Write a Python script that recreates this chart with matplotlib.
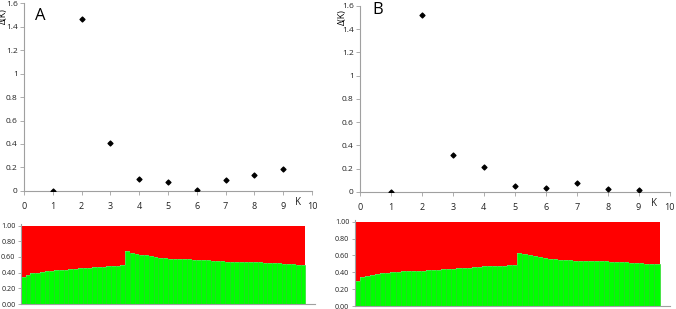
import matplotlib.pyplot as plt
import numpy as np

plt.rcParams['font.family'] = ['Open Sans', 'DejaVu Sans']

# Delta K values for panels A and B
k = [1, 2, 3, 4, 5, 6, 7, 8, 9]
dk_a = [0.0, 1.465, 0.41, 0.10, 0.08, 0.005, 0.095, 0.135, 0.19]
dk_b = [0.0, 1.52, 0.32, 0.21, 0.05, 0.035, 0.08, 0.025, 0.015]

# membership (green cluster) per individual, sorted as in the structure plots
green_a = [0.35, 0.37, 0.39, 0.40, 0.41, 0.42, 0.42, 0.43, 0.44, 0.44, 0.45,
           0.45, 0.46, 0.46, 0.46, 0.47, 0.47, 0.47, 0.48, 0.48, 0.48, 0.50,
           0.67, 0.65, 0.64, 0.63, 0.62, 0.61, 0.60, 0.59, 0.59, 0.58, 0.58,
           0.57, 0.57, 0.57, 0.56, 0.56, 0.56, 0.56, 0.55, 0.55, 0.55, 0.54,
           0.54, 0.54, 0.54, 0.53, 0.53, 0.53, 0.53, 0.52, 0.52, 0.52, 0.52,
           0.51, 0.51, 0.51, 0.50, 0.50]
green_b = [0.30, 0.34, 0.36, 0.37, 0.38, 0.39, 0.39, 0.40, 0.40, 0.41, 0.41,
           0.42, 0.42, 0.42, 0.43, 0.43, 0.43, 0.44, 0.44, 0.44, 0.45, 0.45,
           0.45, 0.46, 0.46, 0.47, 0.47, 0.47, 0.48, 0.48, 0.49, 0.49,
           0.63, 0.62, 0.60, 0.59, 0.58, 0.57, 0.56, 0.56, 0.55, 0.55, 0.55,
           0.54, 0.54, 0.54, 0.54, 0.53, 0.53, 0.53, 0.52, 0.52, 0.52, 0.52,
           0.51, 0.51, 0.51, 0.50, 0.50, 0.50]

gray = '#a0a0a0'
fig = plt.figure(figsize=(6.76, 3.09), dpi=100)


def style(ax):
    for s in ['top', 'right']:
        ax.spines[s].set_visible(False)
    for s in ['left', 'bottom']:
        ax.spines[s].set_color(gray)
        ax.spines[s].set_linewidth(0.8)
    ax.tick_params(colors=gray, length=3, width=0.6, labelcolor='#222222')


def delta_panel(rect, vals, letter, lx, ly):
    ax = fig.add_axes(rect)
    ax.scatter(k, vals, marker='D', s=6, color='black', zorder=3)
    ax.set_xlim(0, 10)
    ax.set_ylim(0, 1.6)
    ax.set_xticks(range(11))
    ax.set_yticks([0, 0.2, 0.4, 0.6, 0.8, 1, 1.2, 1.4, 1.6])
    ax.set_yticklabels(['0', '0.2', '0.4', '0.6', '0.8', '1', '1.2', '1.4', '1.6'])
    style(ax)
    ax.tick_params(axis='x', labelsize=6.5, pad=5)
    ax.tick_params(axis='y', labelsize=6, pad=1.5)
    ax.text(9.5, -0.1, 'K', fontsize=7, ha='center', va='center', color='#222222')
    fig.text(lx, ly, letter, fontsize=12, ha='left', va='top')
    return ax


def structure_panel(rect, vals):
    ax = fig.add_axes(rect)
    n = len(vals)
    x = np.arange(n)
    g = np.array(vals)
    ax.bar(x, g, width=1.0, align='edge', color='#00ff00', edgecolor='#1fcc1f', linewidth=0.4)
    ax.bar(x, 1 - g, bottom=g, width=1.0, align='edge', color='#ff0000', linewidth=0)
    ax.set_xlim(0, n * 1.034)
    ax.set_ylim(0, 1.02)
    ax.set_xticks([])
    ax.set_yticks([0, 0.2, 0.4, 0.6, 0.8, 1.0])
    ax.set_yticklabels(['0.00', '0.20', '0.40', '0.60', '0.80', '1.00'])
    style(ax)
    ax.tick_params(labelsize=5.2, length=2, pad=2)
    return ax


ax1 = delta_panel([0.0355, 0.382, 0.426, 0.608], dk_a, 'A', 0.052, 0.975)
ax2 = delta_panel([0.5325, 0.379, 0.458, 0.602], dk_b, 'B', 0.551, 0.995)
fig.text(-0.002, 0.948, 'Δ(K)', fontsize=6.5, rotation=90, ha='left', va='center')
fig.text(0.4995, 0.945, 'Δ(K)', fontsize=6.5, rotation=90, ha='left', va='center')

structure_panel([0.031, 0.016, 0.435, 0.259], green_a)
structure_panel([0.525, 0.0097, 0.466, 0.278], green_b)

fig.savefig('out.png', dpi=100)
